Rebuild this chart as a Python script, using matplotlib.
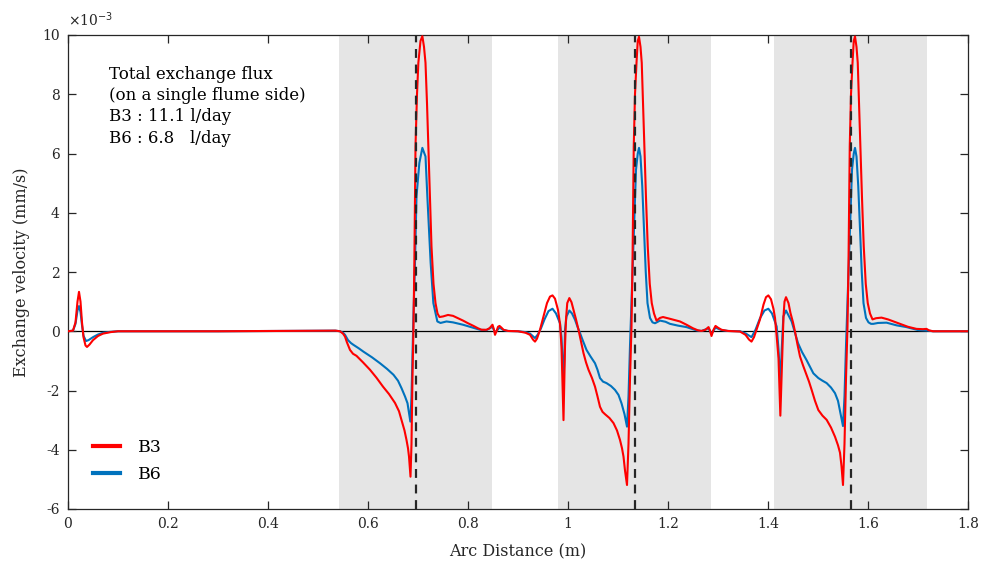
import matplotlib
matplotlib.use("Agg")
import matplotlib.pyplot as plt
from matplotlib.lines import Line2D

plt.rcParams['font.family'] = ['DejaVu Serif']
plt.rcParams['axes.unicode_minus'] = False

# ---- data (velocity in 1e-3 mm/s) ----
b3_x = [0.000, 0.010, 0.015, 0.019, 0.022, 0.025, 0.028, 0.031, 0.035, 0.038, 0.043, 0.050,
        0.060, 0.070, 0.085, 0.100, 0.300, 0.500, 0.535, 0.544, 0.550, 0.554, 0.558, 0.564,
        0.570, 0.577, 0.590, 0.604, 0.617, 0.630, 0.642, 0.654, 0.662, 0.667, 0.673, 0.677,
        0.680, 0.682, 0.684, 0.685, 0.687, 0.689, 0.691, 0.6927, 0.695, 0.698, 0.7007, 0.705,
        0.7087, 0.712, 0.715, 0.718, 0.7207, 0.724, 0.727, 0.731, 0.735, 0.739, 0.743, 0.750,
        0.760, 0.770, 0.780, 0.790, 0.800, 0.811, 0.820, 0.827, 0.837, 0.843, 0.849, 0.852,
        0.854, 0.857, 0.860, 0.863, 0.867, 0.871, 0.880, 0.900, 0.915, 0.924, 0.930, 0.934,
        0.938, 0.944, 0.951, 0.958, 0.964, 0.969, 0.974, 0.980, 0.984, 0.987, 0.989, 0.991,
        0.9925, 0.994, 0.996, 0.9985, 1.0027, 1.007, 1.011, 1.016, 1.021, 1.026, 1.031, 1.036,
        1.041, 1.048, 1.054, 1.059, 1.064, 1.069, 1.074, 1.083, 1.091, 1.098, 1.104, 1.108,
        1.111, 1.114, 1.118, 1.121, 1.124, 1.127, 1.129, 1.1315, 1.134, 1.137, 1.1395, 1.142,
        1.145, 1.1475, 1.150, 1.1525, 1.156, 1.1595, 1.1635, 1.1675, 1.172, 1.177, 1.184, 1.190,
        1.204, 1.224, 1.237, 1.250, 1.260, 1.267, 1.275, 1.281, 1.284, 1.287, 1.291, 1.295,
        1.300, 1.307, 1.320, 1.344, 1.355, 1.362, 1.367, 1.372, 1.377, 1.384, 1.391, 1.396,
        1.4007, 1.406, 1.411, 1.414, 1.417, 1.421, 1.423, 1.4247, 1.4265, 1.4287, 1.431, 1.433,
        1.436, 1.441, 1.445, 1.450, 1.454, 1.459, 1.464, 1.470, 1.476, 1.482, 1.4873, 1.494,
        1.5007, 1.509, 1.5173, 1.526, 1.534, 1.540, 1.544, 1.547, 1.550, 1.553, 1.556, 1.559,
        1.561, 1.5635, 1.566, 1.569, 1.5715, 1.574, 1.577, 1.5795, 1.582, 1.5845, 1.588, 1.5915,
        1.5955, 1.5995, 1.604, 1.609, 1.616, 1.627, 1.640, 1.664, 1.680, 1.697, 1.710, 1.717,
        1.722, 1.730, 1.800]
b3_y = [0.00, 0.02, 0.30, 1.00, 1.33, 1.00, 0.30, -0.20, -0.48, -0.53, -0.45, -0.30,
        -0.16, -0.08, -0.03, 0.00, 0.00, 0.02, 0.02, 0.00, -0.08, -0.18, -0.38, -0.63,
        -0.76, -0.83, -1.05, -1.30, -1.57, -1.87, -2.12, -2.42, -2.70, -2.99, -3.35, -3.67,
        -3.95, -4.23, -4.70, -4.91, -3.80, -1.50, 0.16, 2.31, 6.24, 8.00, 9.06, 9.80,
        9.96, 9.60, 9.06, 7.70, 6.24, 4.50, 2.86, 1.60, 0.95, 0.60, 0.48, 0.50,
        0.55, 0.52, 0.44, 0.36, 0.27, 0.18, 0.10, 0.05, 0.05, 0.10, 0.22, 0.05,
        -0.12, 0.00, 0.15, 0.18, 0.12, 0.05, 0.01, 0.00, -0.05, -0.12, -0.28, -0.35,
        -0.25, 0.05, 0.50, 0.95, 1.17, 1.21, 1.10, 0.72, 0.25, -0.52, -1.80, -3.00,
        -1.80, -0.52, 0.40, 0.95, 1.12, 0.98, 0.72, 0.40, 0.05, -0.35, -0.74, -1.05,
        -1.30, -1.58, -1.87, -2.20, -2.55, -2.72, -2.80, -2.93, -3.10, -3.35, -3.67, -3.95,
        -4.23, -4.70, -5.19, -3.80, -1.60, 0.16, 2.31, 6.24, 8.00, 9.06, 9.80, 9.94,
        9.60, 9.06, 7.70, 6.24, 4.50, 2.86, 1.60, 0.95, 0.60, 0.36, 0.45, 0.48,
        0.42, 0.33, 0.22, 0.10, 0.03, 0.01, 0.05, 0.14, 0.02, -0.16, 0.05, 0.18,
        0.12, 0.05, 0.01, -0.01, -0.12, -0.28, -0.35, -0.20, 0.05, 0.40, 0.90, 1.15,
        1.21, 1.08, 0.75, 0.45, -0.10, -0.90, -1.90, -2.85, -1.90, -0.63, 0.50, 1.00,
        1.15, 0.95, 0.61, 0.30, -0.01, -0.45, -0.85, -1.15, -1.42, -1.70, -1.98, -2.35,
        -2.66, -2.85, -2.99, -3.25, -3.56, -3.85, -4.10, -4.55, -5.19, -3.80, -1.60, 0.16,
        2.31, 6.24, 8.00, 9.06, 9.80, 9.95, 9.60, 9.06, 7.70, 6.24, 4.50, 2.86,
        1.60, 0.95, 0.60, 0.40, 0.44, 0.46, 0.40, 0.25, 0.15, 0.08, 0.07, 0.08,
        0.03, 0.00, 0.00]

b6_x = [0.000, 0.010, 0.015, 0.019, 0.022, 0.025, 0.028, 0.031, 0.036, 0.041, 0.050, 0.060,
        0.070, 0.085, 0.100, 0.300, 0.500, 0.535, 0.544, 0.550, 0.554, 0.560, 0.566, 0.571,
        0.581, 0.591, 0.608, 0.624, 0.638, 0.651, 0.660, 0.667, 0.674, 0.679, 0.682, 0.6847,
        0.687, 0.689, 0.691, 0.694, 0.697, 0.7027, 0.7087, 0.715, 0.7187, 0.7253, 0.7307, 0.7387,
        0.745, 0.757, 0.770, 0.790, 0.810, 0.824, 0.837, 0.849, 0.854, 0.863, 0.871, 0.880,
        0.900, 0.915, 0.924, 0.934, 0.940, 0.946, 0.953, 0.961, 0.969, 0.976, 0.984, 0.987,
        0.989, 0.991, 0.9925, 0.994, 0.997, 1.0027, 1.008, 1.014, 1.019, 1.024, 1.030, 1.037,
        1.045, 1.054, 1.059, 1.064, 1.070, 1.077, 1.086, 1.094, 1.101, 1.107, 1.113, 1.118,
        1.121, 1.124, 1.127, 1.130, 1.133, 1.136, 1.1395, 1.142, 1.145, 1.1485, 1.152, 1.1555,
        1.159, 1.164, 1.169, 1.174, 1.184, 1.195, 1.204, 1.220, 1.237, 1.257, 1.267, 1.281,
        1.287, 1.295, 1.307, 1.320, 1.344, 1.356, 1.367, 1.375, 1.384, 1.393, 1.4007, 1.408,
        1.4173, 1.421, 1.4247, 1.4275, 1.4307, 1.436, 1.4473, 1.454, 1.460, 1.468, 1.477, 1.484,
        1.4907, 1.5007, 1.509, 1.5173, 1.526, 1.534, 1.540, 1.546, 1.550, 1.553, 1.556, 1.559,
        1.562, 1.565, 1.568, 1.5715, 1.574, 1.577, 1.5805, 1.584, 1.5875, 1.591, 1.596, 1.601,
        1.606, 1.6107, 1.620, 1.637, 1.657, 1.677, 1.700, 1.720, 1.730, 1.800]
b6_y = [0.00, 0.02, 0.25, 0.70, 0.85, 0.65, 0.20, -0.15, -0.33, -0.30, -0.20, -0.11,
        -0.05, -0.02, 0.00, 0.00, 0.02, 0.02, 0.00, -0.05, -0.12, -0.30, -0.40, -0.46,
        -0.57, -0.69, -0.88, -1.08, -1.27, -1.47, -1.67, -1.92, -2.20, -2.43, -2.75, -3.05,
        -2.20, -0.80, 0.60, 2.31, 4.55, 5.68, 6.19, 5.90, 4.55, 2.31, 0.95, 0.33,
        0.28, 0.33, 0.30, 0.22, 0.12, 0.05, 0.04, 0.15, -0.05, 0.12, 0.04, 0.01,
        0.00, -0.03, -0.08, -0.23, -0.10, 0.10, 0.40, 0.68, 0.76, 0.60, 0.27, -0.20,
        -1.00, -1.70, -1.00, 0.05, 0.50, 0.70, 0.60, 0.39, 0.15, -0.06, -0.33, -0.63,
        -0.85, -1.08, -1.30, -1.58, -1.70, -1.75, -1.85, -1.98, -2.15, -2.43, -2.80, -3.22,
        -2.20, -0.50, 1.00, 2.50, 4.00, 5.45, 6.00, 6.19, 5.90, 4.90, 3.43, 2.00,
        0.95, 0.45, 0.30, 0.27, 0.36, 0.32, 0.25, 0.19, 0.14, 0.03, 0.01, 0.10,
        -0.08, 0.12, 0.04, 0.01, 0.00, -0.08, -0.20, 0.05, 0.44, 0.70, 0.76, 0.60,
        0.16, -0.60, -1.75, -0.60, 0.50, 0.70, 0.33, -0.05, -0.40, -0.70, -0.97, -1.20,
        -1.42, -1.58, -1.67, -1.75, -1.90, -2.09, -2.35, -2.85, -3.20, -2.20, -0.50, 1.00,
        2.50, 4.00, 5.45, 6.00, 6.19, 5.90, 4.90, 3.43, 2.00, 0.95, 0.45, 0.30,
        0.25, 0.25, 0.28, 0.29, 0.20, 0.14, 0.04, 0.02, 0.00, 0.00]

shade_start = [0.542, 0.980, 1.412]
shade_end = [0.848, 1.286, 1.718]
dash_x = [0.696, 1.134, 1.566]

x_ticks = [0, 0.2, 0.4, 0.6, 0.8, 1.0, 1.2, 1.4, 1.6, 1.8]
x_tick_labels = ['0', '0.2', '0.4', '0.6', '0.8', '1', '1.2', '1.4', '1.6', '1.8']
y_ticks = [-6, -4, -2, 0, 2, 4, 6, 8, 10]

annotation = "Total exchange flux\n(on a single flume side)\nB3 : 11.1 l/day\nB6 : 6.8   l/day"

RED = '#FF0000'
BLUE = '#0072BD'
AXC = '#262626'

fig = plt.figure(figsize=(9.81, 5.63), dpi=100)
ax = fig.add_axes([68/981, 54/563, 900/981, 474/563])

for s, e in zip(shade_start, shade_end):
    ax.axvspan(s, e, color='#e5e5e5', lw=0, zorder=0)

ax.axhline(0, color='black', lw=0.9, zorder=1)
for d in dash_x:
    ax.axvline(d, color=AXC, lw=1.6, ls=(0, (4, 3)), zorder=4)

ax.plot(b6_x, b6_y, color=BLUE, lw=1.5, zorder=2)
ax.plot(b3_x, b3_y, color=RED, lw=1.5, zorder=3)

ax.set_xlim(0, 1.8)
ax.set_ylim(-6, 10)
ax.set_xticks(x_ticks)
ax.set_xticklabels(x_tick_labels)
ax.set_yticks(y_ticks)
ax.tick_params(direction='in', length=6, width=0.9, top=True, right=True,
               labelsize=10, colors=AXC, pad=6)
for sp in ax.spines.values():
    sp.set_color(AXC)
    sp.set_linewidth(0.9)

ax.set_xlabel('Arc Distance (m)', fontsize=11.5, color=AXC, labelpad=9)
ax.set_ylabel('Exchange velocity (mm/s)', fontsize=11.5, color=AXC, labelpad=9)

ax.text(0.0, 1.012, r'$\times$10$^{-3}$', transform=ax.transAxes, fontsize=10,
        color=AXC, ha='left', va='bottom')

ax.text(0.0455, 0.935, annotation, transform=ax.transAxes, fontsize=12,
        color='black', ha='left', va='top', linespacing=1.33)

handles = [Line2D([], [], color=RED, lw=3), Line2D([], [], color=BLUE, lw=3)]
ax.legend(handles, ['B3', 'B6'], loc='lower left', bbox_to_anchor=(0.01, 0.022),
          frameon=False, fontsize=12.5, handlelength=1.6, handletextpad=1.0,
          labelspacing=0.55)

fig.savefig('out.png', dpi=100)
